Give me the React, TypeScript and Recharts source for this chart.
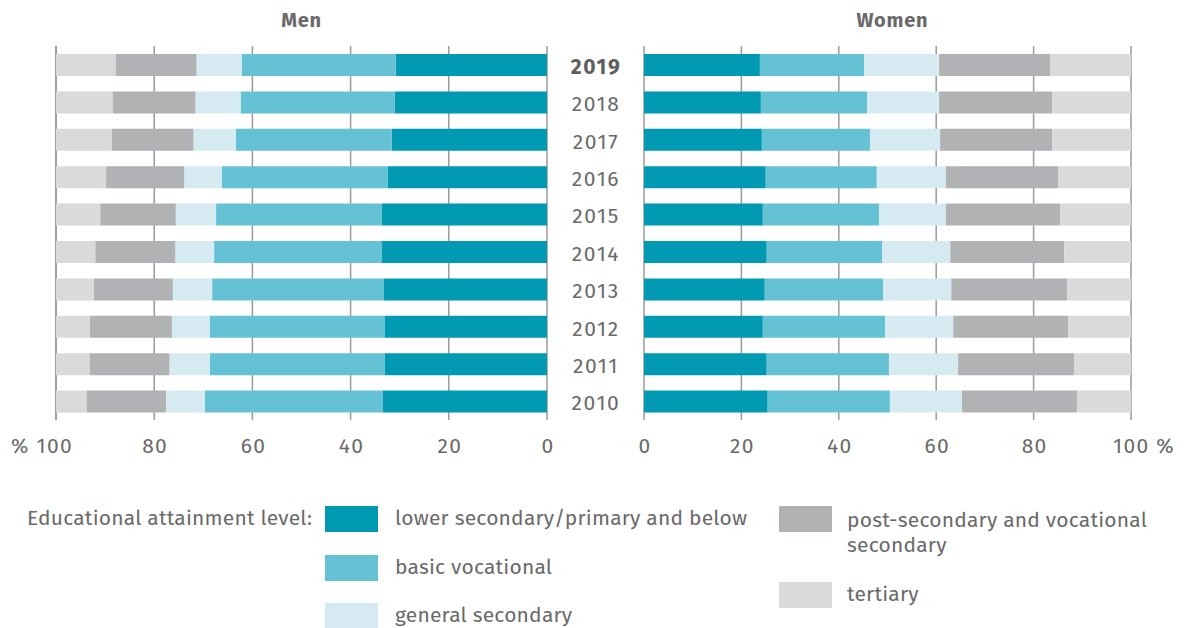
import React from 'react';
import { BarChart, Bar, XAxis, YAxis, CartesianGrid } from 'recharts';

const years = ['2019', '2018', '2017', '2016', '2015', '2014', '2013', '2012', '2011', '2010'];

const menLower = [30.8, 31.0, 31.6, 32.4, 33.6, 33.6, 33.2, 33.0, 33.0, 33.4];
const menBasic = [31.4, 31.4, 31.8, 33.8, 33.8, 34.2, 35.0, 35.7, 35.7, 36.3];
const menGeneral = [9.2, 9.2, 8.6, 7.7, 8.2, 7.9, 8.0, 7.7, 8.2, 7.9];
const menPost = [16.5, 16.9, 16.7, 15.9, 15.4, 16.3, 16.1, 16.7, 16.3, 16.2];
const menTertiary = [12.1, 11.5, 11.3, 10.2, 9.0, 8.0, 7.7, 6.9, 6.8, 6.2];

const womenLower = [23.8, 24.0, 24.2, 25.0, 24.4, 25.2, 24.8, 24.4, 25.2, 25.4];
const womenBasic = [21.4, 21.8, 22.2, 22.8, 23.9, 23.7, 24.3, 25.1, 25.1, 25.1];
const womenGeneral = [15.4, 14.8, 14.4, 14.2, 13.7, 14.0, 14.0, 14.0, 14.2, 14.8];
const womenPost = [22.8, 23.2, 23.0, 23.1, 23.5, 23.4, 23.8, 23.6, 23.8, 23.6];
const womenTertiary = [16.6, 16.2, 16.2, 14.9, 14.5, 13.7, 13.1, 12.9, 11.7, 11.1];

const xTicks = [0, 20, 40, 60, 80, 100];

const levels = [
  { key: 'lower', name: 'lower secondary/primary and below', color: '#019ab2' },
  { key: 'basic', name: 'basic vocational', color: '#64c2d4' },
  { key: 'general', name: 'general secondary', color: '#d5ebf1' },
  { key: 'post', name: 'post-secondary and vocational secondary', color: '#b1b2b4' },
  { key: 'tertiary', name: 'tertiary', color: '#dadada' },
];

const menData = years.map((y, i) => ({
  year: y,
  lower: menLower[i],
  basic: menBasic[i],
  general: menGeneral[i],
  post: menPost[i],
  tertiary: menTertiary[i],
}));

const womenData = years.map((y, i) => ({
  year: y,
  lower: womenLower[i],
  basic: womenBasic[i],
  general: womenGeneral[i],
  post: womenPost[i],
  tertiary: womenTertiary[i],
}));

const FONT = "'Fira Sans', 'Open Sans', sans-serif";
const TEXT = '#6a6a6a';
const numStyle = { letterSpacing: '1.3px' };

function MenTick(props: any) {
  const { x, y, payload } = props;
  if (payload.value === 100) {
    return (
      <text x={x + 17} y={y + 33} textAnchor="end" fill={TEXT} fontSize={21} fontFamily={FONT} style={numStyle}>
        % 100
      </text>
    );
  }
  return (
    <text x={x + 1} y={y + 33} textAnchor="middle" fill={TEXT} fontSize={21} fontFamily={FONT} style={numStyle}>
      {payload.value}
    </text>
  );
}

function WomenTick(props: any) {
  const { x, y, payload } = props;
  if (payload.value === 100) {
    return (
      <text x={x - 18} y={y + 33} textAnchor="start" fill={TEXT} fontSize={21} fontFamily={FONT} style={numStyle}>
        100 %
      </text>
    );
  }
  return (
    <text x={x + 1} y={y + 33} textAnchor="middle" fill={TEXT} fontSize={21} fontFamily={FONT} style={numStyle}>
      {payload.value}
    </text>
  );
}

function YearTick(props: any) {
  const { x, y, payload } = props;
  const bold = payload.value === '2019';
  return (
    <text
      x={x + 49}
      y={y + 9}
      textAnchor="middle"
      fill={bold ? '#5e5e5e' : TEXT}
      fontWeight={bold ? 700 : 400}
      fontSize={21}
      fontFamily={FONT}
      style={{ letterSpacing: '1.6px' }}
    >
      {payload.value}
    </text>
  );
}

function Swatch({ color, left, top }: { color: string; left: number; top: number }) {
  return <div style={{ position: 'absolute', left, top, width: 53, height: 26, background: color }} />;
}

function LegendText({ children, left, top }: { children: React.ReactNode; left: number; top: number }) {
  return (
    <div style={{ position: 'absolute', left, top, fontSize: 21, lineHeight: '25px', letterSpacing: '0.2px', color: TEXT, fontFamily: FONT, whiteSpace: 'nowrap' }}>
      {children}
    </div>
  );
}

export default function App() {
  return (
    <div style={{ position: 'absolute', left: 0, top: 0, width: 1184, height: 628, background: '#fff', fontFamily: FONT, overflow: 'hidden' }}>
      <div style={{ position: 'absolute', left: 0, width: 603, top: 8, textAlign: 'center', fontWeight: 700, fontSize: 20, letterSpacing: '0.8px', color: TEXT }}>
        Men
      </div>
      <div style={{ position: 'absolute', left: 644, width: 497, top: 8, textAlign: 'center', fontWeight: 700, fontSize: 20, letterSpacing: '0.8px', color: TEXT }}>
        Women
      </div>

      <div style={{ position: 'absolute', left: 0, top: 0 }}>
        <BarChart width={644} height={470} data={menData} layout="vertical" barSize={22}
          margin={{ top: 46, right: 0, bottom: 20, left: 56 }}>
          <CartesianGrid horizontal={false} stroke="#9a9a9a" strokeWidth={1.5} />
          <XAxis type="number" domain={[0, 100]} ticks={xTicks} reversed axisLine={false} tickLine={false}
            tickSize={0} tickMargin={0} height={30} tick={<MenTick />} interval={0} />
          <YAxis type="category" dataKey="year" orientation="right" width={97} axisLine={false} tickLine={false}
            tickSize={0} tickMargin={0} tick={<YearTick />} interval={0} />
          {levels.map(l => (
            <Bar key={l.key} dataKey={l.key} name={l.name} stackId="m" fill={l.color} isAnimationActive={false} />
          ))}
        </BarChart>
      </div>

      <div style={{ position: 'absolute', left: 600, top: 0 }}>
        <BarChart width={584} height={470} data={womenData} layout="vertical" barSize={22}
          margin={{ top: 46, right: 53, bottom: 20, left: 44 }}>
          <CartesianGrid horizontal={false} stroke="#9a9a9a" strokeWidth={1.5} />
          <XAxis type="number" domain={[0, 100]} ticks={xTicks} axisLine={false} tickLine={false}
            tickSize={0} tickMargin={0} height={30} tick={<WomenTick />} interval={0} />
          <YAxis type="category" dataKey="year" hide />
          {levels.map(l => (
            <Bar key={l.key} dataKey={l.key} name={l.name} stackId="w" fill={l.color} isAnimationActive={false} />
          ))}
        </BarChart>
      </div>

      <LegendText left={27} top={506}>Educational attainment level:</LegendText>
      <Swatch color={levels[0].color} left={325} top={506} />
      <LegendText left={395} top={506}>{levels[0].name}</LegendText>
      <Swatch color={levels[1].color} left={325} top={555} />
      <LegendText left={395} top={555}>{levels[1].name}</LegendText>
      <Swatch color={levels[2].color} left={325} top={603} />
      <LegendText left={395} top={603}>{levels[2].name}</LegendText>
      <Swatch color={levels[3].color} left={779} top={506} />
      <LegendText left={847} top={508}>
        post-secondary and vocational
        <br />
        secondary
      </LegendText>
      <Swatch color={levels[4].color} left={779} top={582} />
      <LegendText left={847} top={582}>{levels[4].name}</LegendText>
    </div>
  );
}
